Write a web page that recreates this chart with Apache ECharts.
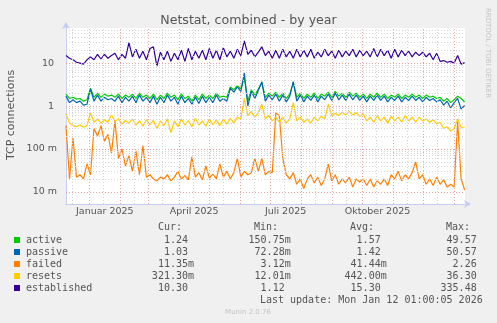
<!DOCTYPE html>
<html><head><meta charset="utf-8">
<script src="https://cdn.jsdelivr.net/npm/echarts@6/dist/echarts.min.js"></script>
<style>html,body{margin:0;padding:0;background:#f0f0f0}#c{width:497px;height:323px}</style>
</head><body><div id="c"></div>
<script>
// Netstat, combined - by year (Munin style, log scale)
const DAY = 86400000;
const startTime = Date.UTC(2024, 11, 8, 16);
const endTime = Date.UTC(2026, 0, 12, 1);
const stepDays = 3.5;

const seriesNames = ['active', 'passive', 'failed', 'resets', 'established'];
const seriesColors = ['#00cc00', '#0066b3', '#ff8000', '#ffcc00', '#330099'];

const active = [1.9,1.5,1.6,1.45,1.5,1.3,1.4,2.6,1.6,2.0,1.6,1.9,1.7,1.8,1.6,1.9,1.5,1.8,1.6,1.9,
  1.5,2.0,1.6,1.8,1.5,1.9,1.4,1.8,1.5,2.0,1.6,1.8,1.4,1.9,1.5,1.7,1.3,1.8,1.4,1.9,
  1.5,1.8,1.5,2.0,1.6,1.7,1.6,2.8,2.4,3.0,2.5,4.5,1.3,2.4,1.8,2.5,3.5,1.6,2.0,1.7,
  2.1,1.6,2.0,1.5,1.9,3.6,1.6,2.0,1.5,1.9,1.6,2.0,1.5,1.9,1.7,2.1,1.6,2.2,1.7,2.0,
  1.6,2.1,1.7,2.0,1.6,1.9,1.5,1.9,1.6,2.0,1.6,1.9,1.5,1.8,1.6,1.9,1.5,1.8,1.6,1.9,
  1.6,1.8,1.5,1.8,1.6,1.7,1.5,1.6,1.3,1.5,1.2,1.4,1.7,1.5,1.24];
const passive = [1.7,1.2,1.4,1.2,1.3,1.05,1.1,2.5,1.3,1.8,1.3,1.6,1.4,1.5,1.3,1.7,1.2,1.6,1.3,1.7,
  1.2,1.8,1.3,1.6,1.2,1.7,1.1,1.6,1.2,1.8,1.3,1.6,1.1,1.7,1.2,1.5,1.1,1.6,1.15,1.7,
  1.2,1.6,1.2,1.8,1.3,1.5,1.3,2.6,2.1,2.8,2.2,5.9,1.0,2.2,1.5,2.3,3.7,1.3,1.8,1.4,
  1.9,1.3,1.8,1.25,1.7,3.7,1.3,1.8,1.25,1.7,1.35,1.8,1.25,1.7,1.4,1.9,1.35,2.0,1.4,1.8,
  1.35,1.9,1.4,1.8,1.35,1.7,1.25,1.7,1.35,1.8,1.35,1.7,1.25,1.6,1.35,1.7,1.25,1.6,1.35,1.7,
  1.35,1.6,1.25,1.6,1.35,1.5,1.25,1.4,1.05,1.3,0.9,1.2,1.5,0.85,1.03];
const failed = [0.35,0.02,0.18,0.022,0.025,0.02,0.045,0.025,0.3,0.2,0.35,0.15,0.22,0.08,0.45,0.06,0.1,0.04,0.07,0.03,
  0.09,0.025,0.12,0.022,0.025,0.02,0.018,0.022,0.02,0.025,0.018,0.022,0.03,0.02,0.024,0.019,0.065,0.022,0.028,0.019,
  0.04,0.021,0.026,0.02,0.045,0.022,0.03,0.02,0.028,0.06,0.022,0.03,0.025,0.028,0.06,0.03,0.06,0.025,0.03,0.028,
  0.7,0.6,0.06,0.025,0.02,0.028,0.015,0.02,0.012,0.02,0.025,0.016,0.022,0.014,0.02,0.045,0.018,0.025,0.015,0.02,
  0.016,0.022,0.013,0.02,0.017,0.02,0.014,0.02,0.013,0.018,0.015,0.02,0.014,0.025,0.02,0.03,0.018,0.025,0.02,0.028,
  0.05,0.02,0.025,0.015,0.02,0.014,0.022,0.015,0.019,0.013,0.015,0.013,0.43,0.02,0.011];
const resets = [0.65,0.4,0.35,0.33,0.36,0.32,0.35,0.7,0.42,0.5,0.4,0.48,0.42,0.62,0.45,0.5,0.38,0.46,0.4,0.5,
  0.36,0.45,0.34,0.48,0.37,0.46,0.3,0.45,0.35,0.5,0.24,0.45,0.33,0.5,0.36,0.46,0.33,0.52,0.36,0.45,
  0.34,0.5,0.37,0.48,0.35,0.5,0.38,0.52,0.4,0.55,0.5,1.5,0.6,0.75,0.55,0.7,1.1,0.5,0.6,0.45,
  0.55,0.42,0.55,0.4,0.5,1.2,0.45,0.55,0.42,0.5,0.4,0.55,0.45,0.58,0.5,1.1,0.6,0.68,0.6,0.72,
  0.62,0.75,0.62,0.7,0.58,0.65,0.45,0.55,0.42,0.6,0.45,0.55,0.4,0.58,0.45,0.55,0.42,0.6,0.45,0.55,
  0.42,0.55,0.45,0.5,0.42,0.48,0.38,0.42,0.3,0.33,0.26,0.3,0.5,0.32,0.32];
const established = [15,13,12,10.5,10,9.5,12,14,12,16,12.5,16,13,15,17,12,16,13,30,14,
  21,13,19,12,22,24,8.5,18,12,19,11,17,12,20,11,22,12,19,13,20,
  12,22,13,20,12,23,14,19,13,21,15,33,16,20,14,18,24,15,19,13,
  20,13,21,14,19,13,21,14,20,14,21,13,18,14,21,15,19,13,20,14,
  19,15,21,14,20,15,19,14,22,14,21,15,20,13,21,14,20,15,19,14,
  18,15,18,14,17,12,17,11,11.5,10.5,11,10,15,9.5,10.3];

const yTickValues = [10, 1, 0.1, 0.01];
const yTickLabels = ['10 ', '1 ', '100 m', '10 m'];
const monthStarts = [];
for (let m = 0; m <= 12; m++) monthStarts.push(Date.UTC(2025, m, 1));
const midMonths = [];
for (let m = -1; m <= 11; m++) midMonths.push(Date.UTC(2025, m, 15));
const xLabelText = ['Januar 2025', 'April 2025', 'Juli 2025', 'Oktober 2025'];
const xLabelDates = [Date.UTC(2025, 0, 16, 12), Date.UTC(2025, 3, 16), Date.UTC(2025, 6, 16, 12), Date.UTC(2025, 9, 16, 12)];

const legendCur = ['1.24 ', '1.03 ', '11.35m', '321.30m', '10.30 '];
const legendMin = ['150.75m', '72.28m', '3.12m', '12.01m', '1.12 '];
const legendAvg = ['1.57 ', '1.42 ', '41.44m', '442.00m', '15.30 '];
const legendMax = ['49.57 ', '50.57 ', '2.26 ', '36.30 ', '335.48 '];

const yMin = 0.0052, yMax = 66;

const allValues = [active, passive, failed, resets, established];

// grid lines
const hLines = [];
for (let d = -3; d <= 1; d++) {
  for (let k = 1; k <= 9; k++) {
    const v = k * Math.pow(10, d);
    if (v <= yMin || v >= yMax) continue;
    hLines.push({ yAxis: v, lineStyle: k === 1 ? { color: '#e9a3a3', type: [1, 2], width: 1 } : { color: '#d4d4d4', type: [1, 2], width: 1 } });
  }
}
const vLines = [];
midMonths.forEach(t => { if (t > startTime && t < endTime) vLines.push({ xAxis: t, lineStyle: { color: '#d4d4d4', type: [1, 2], width: 1 } }); });
monthStarts.forEach(t => { if (t > startTime && t < endTime) vLines.push({ xAxis: t, lineStyle: { color: '#e9a3a3', type: [1, 2], width: 1 } }); });

const series = [{
  type: 'line', name: 'grid', data: [[startTime, 1]], showSymbol: false, silent: true,
  lineStyle: { opacity: 0 },
  markLine: { silent: true, symbol: ['none', 'none'], label: { show: false }, animation: false, data: hLines.concat(vLines) }
}];
allValues.forEach((vals, s) => {
  series.push({
    type: 'line', name: seriesNames[s], showSymbol: false, silent: true,
    lineStyle: { color: seriesColors[s], width: 1.2 },
    itemStyle: { color: seriesColors[s] },
    data: vals.map((v, i) => [startTime + i * stepDays * DAY, v])
  });
});

const chart = echarts.init(document.getElementById('c'), null, { renderer: 'canvas' });
chart.setOption({
  animation: false,
  backgroundColor: '#f0f0f0',
  title: {
    text: 'Netstat, combined - by year', left: 'center', top: 9,
    textStyle: { fontFamily: 'DejaVu Sans', fontSize: 12.6, fontWeight: 'normal', color: '#555' }
  },
  grid: { left: 66, right: 32, top: 28, bottom: 119, show: true, backgroundColor: '#ffffff', borderWidth: 0 },
  xAxis: {
    type: 'value', min: startTime, max: endTime,
    axisLine: { show: true, lineStyle: { color: '#c5cdf2', width: 1 }, symbol: ['none', 'arrow'], symbolSize: [6, 7], symbolOffset: [0, 6] },
    axisTick: { show: false }, axisLabel: { show: false }, splitLine: { show: false }
  },
  yAxis: {
    type: 'log', logBase: 10, min: yMin, max: yMax,
    axisLine: { show: true, onZero: false, lineStyle: { color: '#c5cdf2', width: 1 }, symbol: ['none', 'arrow'], symbolSize: [6, 7], symbolOffset: [0, 6] },
    axisTick: { show: false }, axisLabel: { show: false }, splitLine: { show: false }
  },
  series: series
});

// text placed through the axes' own scales
const gfx = [];
const labelFont = { fontFamily: 'DejaVu Sans', fontSize: 9.5, fill: '#555' };
yTickValues.forEach((v, i) => {
  const p = chart.convertToPixel({ gridIndex: 0 }, [startTime, v]);
  gfx.push({ type: 'text', x: p[0] - 9, y: p[1], style: Object.assign({ text: yTickLabels[i], align: 'right', verticalAlign: 'middle', textAlign: 'right', textVerticalAlign: 'middle' }, labelFont) });
});
xLabelDates.forEach((t, i) => {
  const p = chart.convertToPixel({ gridIndex: 0 }, [t, yMin]);
  gfx.push({ type: 'text', x: p[0], y: p[1] + 8, style: Object.assign({ text: xLabelText[i], align: 'center', verticalAlign: 'middle', textAlign: 'center', textVerticalAlign: 'middle' }, labelFont) });
});
gfx.push({ type: 'text', x: 11, y: 115, rotation: Math.PI / 2,
  style: { text: 'TCP connections', fontFamily: 'DejaVu Sans', fontSize: 11, fill: '#555', align: 'center', verticalAlign: 'middle', textAlign: 'center', textVerticalAlign: 'middle' } });
gfx.push({ type: 'text', x: 488, y: 53, rotation: -Math.PI / 2,
  style: { text: 'RRDTOOL / TOBI OETIKER', fontFamily: 'DejaVu Sans', fontSize: 7, fill: '#c4c4c4', align: 'center', verticalAlign: 'middle', textAlign: 'center', textVerticalAlign: 'middle' } });

const mono = { fontFamily: 'DejaVu Sans Mono', fontSize: 10, fill: '#555' };
const headY = 227.5;
[['Cur:', 182], ['Min:', 278], ['Avg:', 374], ['Max:', 470]].forEach(h => {
  gfx.push({ type: 'text', x: h[1], y: headY, style: Object.assign({ text: h[0], align: 'right', verticalAlign: 'middle', textAlign: 'right', textVerticalAlign: 'middle' }, mono) });
});
const rowY = [240, 252, 264, 276, 288];
seriesNames.forEach((n, i) => {
  gfx.push({ type: 'rect', shape: { x: 14, y: rowY[i] - 3, width: 6, height: 6 }, style: { fill: seriesColors[i] } });
  gfx.push({ type: 'text', x: 26, y: rowY[i], style: Object.assign({ text: n, align: 'left', verticalAlign: 'middle', textAlign: 'left', textVerticalAlign: 'middle' }, mono) });
  [[legendCur, 194], [legendMin, 290.7], [legendAvg, 386.7], [legendMax, 482.7]].forEach(c => {
    gfx.push({ type: 'text', x: c[1], y: rowY[i], style: Object.assign({ text: c[0][i], align: 'right', verticalAlign: 'middle', textAlign: 'right', textVerticalAlign: 'middle' }, mono) });
  });
});
gfx.push({ type: 'text', x: 482.7, y: 300, style: Object.assign({ text: 'Last update: Mon Jan 12 01:00:05 2026', align: 'right', verticalAlign: 'middle', textAlign: 'right', textVerticalAlign: 'middle' }, mono) });
gfx.push({ type: 'text', x: 248, y: 312, style: { text: 'Munin 2.0.76', fontFamily: 'DejaVu Sans', fontSize: 7, fill: '#c4c4c4', align: 'center', verticalAlign: 'middle', textAlign: 'center', textVerticalAlign: 'middle' } });

chart.setOption({ graphic: gfx });
</script>
</body></html>
